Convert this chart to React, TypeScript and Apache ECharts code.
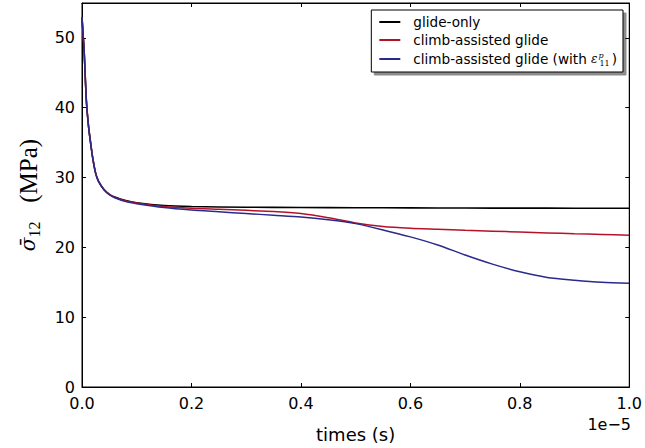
import React, { useEffect, useRef } from "react";
import * as echarts from "echarts";

// time in units of 1e-5 s
const timesGlide = [0, 0.002, 0.004, 0.008, 0.012, 0.016, 0.02, 0.025, 0.03, 0.04, 0.05, 0.06, 0.08, 0.1, 0.15, 0.2, 0.3, 0.4, 0.5, 0.6, 0.7, 0.8, 0.9, 1.0];
const glideOnly = [53, 50.5, 48, 41, 37.3, 34.8, 32.6, 30.6, 29.5, 28.3, 27.6, 27.2, 26.7, 26.4, 26.0, 25.85, 25.75, 25.7, 25.68, 25.65, 25.63, 25.62, 25.61, 25.6];

const timesClimb = [0, 0.002, 0.004, 0.008, 0.012, 0.016, 0.02, 0.025, 0.03, 0.04, 0.05, 0.06, 0.08, 0.1, 0.15, 0.2, 0.25, 0.3, 0.35, 0.4, 0.45, 0.5, 0.55, 0.6, 0.65, 0.7, 0.75, 0.8, 0.85, 0.9, 0.95, 1.0];
const climbAssisted = [53, 50.5, 48, 41, 37.3, 34.8, 32.6, 30.6, 29.5, 28.3, 27.6, 27.15, 26.65, 26.35, 25.85, 25.6, 25.45, 25.3, 25.15, 24.85, 24.25, 23.5, 23.0, 22.75, 22.6, 22.45, 22.32, 22.2, 22.07, 21.95, 21.85, 21.75];
const climbAssistedEps = [53, 50.5, 48, 41, 37.3, 34.8, 32.6, 30.6, 29.5, 28.3, 27.55, 27.1, 26.55, 26.25, 25.7, 25.35, 25.1, 24.85, 24.6, 24.35, 23.95, 23.4, 22.5, 21.5, 20.35, 18.9, 17.6, 16.5, 15.7, 15.3, 15.0, 14.85];

const seriesNames = ["glide-only", "climb-assisted glide", "climb-assisted glide (with eps)"];
const seriesColors = ["#000000", "#b5122a", "#2a2a8c"];

const xTicks = [0, 0.2, 0.4, 0.6, 0.8, 1.0];
const yTicks = [0, 10, 20, 30, 40, 50];

const zip = (xs: number[], ys: number[]) => xs.map((x, i) => [x, ys[i]]);

export default function App() {
  const ref = useRef<HTMLDivElement>(null);
  useEffect(() => {
    if (!ref.current) return;
    document.body.style.margin = "0";
    const chart = echarts.init(ref.current, null, { renderer: "svg" });
    const tickFont = { fontFamily: "DejaVu Sans", fontSize: 16, color: "#000" };
    const commonX = { type: "value", min: 0, max: 1, interval: 0.2 };
    const commonY = { type: "value", min: 0, max: 55, interval: 10 };
    const line = { show: true, onZero: false, lineStyle: { color: "#000", width: 1 } };
    const tick = { show: true, inside: true, length: 4, lineStyle: { color: "#000", width: 1 } };
    const lineSeries = (i: number, xs: number[], ys: number[], w: number) => ({
      name: seriesNames[i],
      type: "line",
      symbol: "none",
      smooth: 0.25,
      data: zip(xs, ys),
      lineStyle: { color: seriesColors[i], width: w },
      itemStyle: { color: seriesColors[i] },
      z: 3 + i,
    });
    chart.setOption({
      animation: false,
      grid: { left: 82, right: 14, top: 3, bottom: 60, show: true, borderColor: "#000", borderWidth: 1, backgroundColor: "transparent" },
      xAxis: [
        {
          ...commonX,
          position: "bottom",
          axisLine: line,
          axisTick: tick,
          splitLine: { show: false },
          axisLabel: { ...tickFont, margin: 8, formatter: (v: number) => v.toFixed(1), customValues: xTicks },
          name: "times (s)",
          nameLocation: "middle",
          nameGap: 38,
          nameTextStyle: { fontFamily: "DejaVu Sans", fontSize: 18, color: "#000" },
        },
        {
          ...commonX,
          position: "top",
          axisLine: line,
          axisTick: tick,
          splitLine: { show: false },
          axisLabel: { show: false },
        },
      ],
      yAxis: [
        {
          ...commonY,
          position: "left",
          axisLine: line,
          axisTick: tick,
          splitLine: { show: false },
          axisLabel: { ...tickFont, margin: 7, customValues: yTicks },
        },
        {
          ...commonY,
          position: "right",
          axisLine: line,
          axisTick: tick,
          splitLine: { show: false },
          axisLabel: { show: false },
        },
      ],
      legend: {
        orient: "vertical",
        right: 22,
        top: 10,
        padding: [5, 6, 5, 8],
        itemGap: 4,
        itemWidth: 21,
        itemHeight: 2,
        icon: "rect",
        backgroundColor: "#fff",
        borderColor: "#000",
        borderWidth: 1,
        shadowColor: "rgba(0,0,0,0.45)",
        shadowOffsetX: 3,
        shadowOffsetY: 3,
        shadowBlur: 0,
        data: seriesNames,
        formatter: (name: string) =>
          name === seriesNames[2]
            ? "{t|climb-assisted glide (with }{e|ε}{sp|p}{sb|11}{t|)}"
            : "{t|" + name + "}",
        textStyle: {
          padding: [0, 0, 0, 8],
          rich: {
            t: { fontFamily: "DejaVu Sans", fontSize: 13.6, color: "#000", lineHeight: 16 },
            e: { fontFamily: "DejaVu Serif", fontStyle: "italic", fontSize: 12, color: "#000", lineHeight: 16 },
            sp: { fontFamily: "DejaVu Serif", fontStyle: "italic", fontSize: 8, color: "#000", lineHeight: 9, verticalAlign: "top", width: 0, align: "left", padding: [0, 0, 0, 1] },
            sb: { fontFamily: "DejaVu Serif", fontSize: 8, color: "#000", lineHeight: 9, verticalAlign: "bottom", padding: [0, 2, 0, 1] },
          },
        },
      },
      graphic: [
        {
          type: "text",
          x: 631,
          y: 424,
          style: { text: "1e\u22125", fontFamily: "DejaVu Sans", fontSize: 16, fill: "#000", align: "right", verticalAlign: "middle" },
        },
        {
          type: "text",
          x: 28,
          y: 195,
          rotation: Math.PI / 2,
          style: {
            text: "{s|\u03C3\u0304}{n|12}{m|   (MPa)}",
            align: "center",
            verticalAlign: "middle",
            fill: "#000",
            rich: {
              s: { fontFamily: "DejaVu Serif", fontStyle: "italic", fontSize: 20, lineHeight: 28, fill: "#000" },
              n: { fontFamily: "Liberation Serif", fontSize: 16, lineHeight: 18, verticalAlign: "bottom", fill: "#000" },
              m: { fontFamily: "Liberation Serif", fontSize: 25, lineHeight: 28, fill: "#000" },
            },
          },
        },
      ],
      series: [
        lineSeries(0, timesGlide, glideOnly, 1.6),
        lineSeries(1, timesClimb, climbAssisted, 1.5),
        lineSeries(2, timesClimb, climbAssistedEps, 1.5),
      ],
    });
    return () => chart.dispose();
  }, []);
  return <div ref={ref} style={{ width: 645, height: 448 }} />;
}
